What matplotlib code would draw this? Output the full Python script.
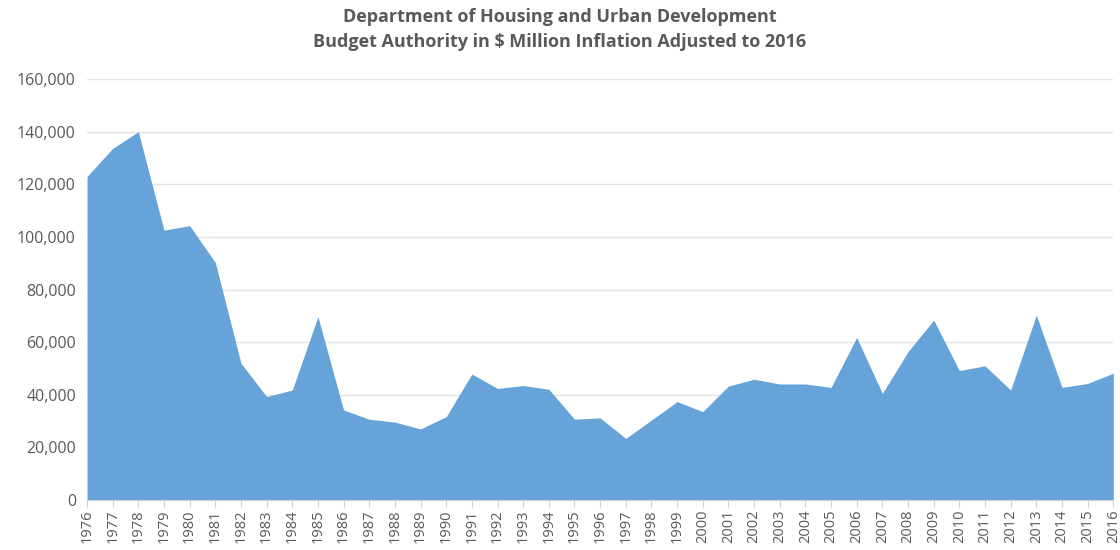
import matplotlib
matplotlib.use('Agg')
import matplotlib.pyplot as plt
from matplotlib.ticker import FuncFormatter

# dados (US$ milhoes, ajustado a 2016)
anos = list(range(1976, 2017))
valores = [
    123000, 133700, 140000, 102600, 104300, 90300, 52000, 39300, 41800, 69700,
    34200, 30700, 29600, 27000, 31700, 47900, 42400, 43500, 42100, 30700,
    31200, 23400, 30400, 37400, 33600, 43300, 45900, 44100, 44100, 42800,
    61800, 40500, 56400, 68400, 49200, 51000, 41800, 70300, 42800, 44300,
    48200,
]
titulo = ('Department of Housing and Urban Development\n'
          'Budget Authority in $ Million Inflation Adjusted to 2016')

plt.rcParams['font.family'] = ['Open Sans', 'DejaVu Sans']

fig = plt.figure(figsize=(11.2, 5.5), dpi=100)
ax = fig.add_axes([0.0777, 0.091, 0.9163, 0.765])

ax.fill_between(anos, valores, 0, color='#66a3d8', linewidth=0, zorder=2)

ax.set_xlim(anos[0], anos[-1])
ax.set_ylim(0, 160000)
ax.set_yticks(range(0, 160001, 20000))
ax.yaxis.set_major_formatter(FuncFormatter(lambda v, p: f'{int(v):,}'))
ax.set_xticks(anos)
ax.set_xticklabels([str(a) for a in anos], rotation=90)

ax.grid(axis='y', color='#e3e3e3', linewidth=1, zorder=0)
for lado in ['top', 'right', 'left']:
    ax.spines[lado].set_visible(False)
ax.spines['bottom'].set_color('#d0d0d0')
ax.tick_params(axis='y', length=0, labelsize=11.5, labelcolor='#595959', pad=8)
ax.tick_params(axis='x', length=5, color='#d0d0d0', labelsize=10.5,
               labelcolor='#595959', pad=2)

fig.text(0.5, 0.985, titulo, ha='center', va='top', fontsize=13,
         fontweight='bold', color='#595959', linespacing=1.5)

fig.savefig('out.png', dpi=100)
